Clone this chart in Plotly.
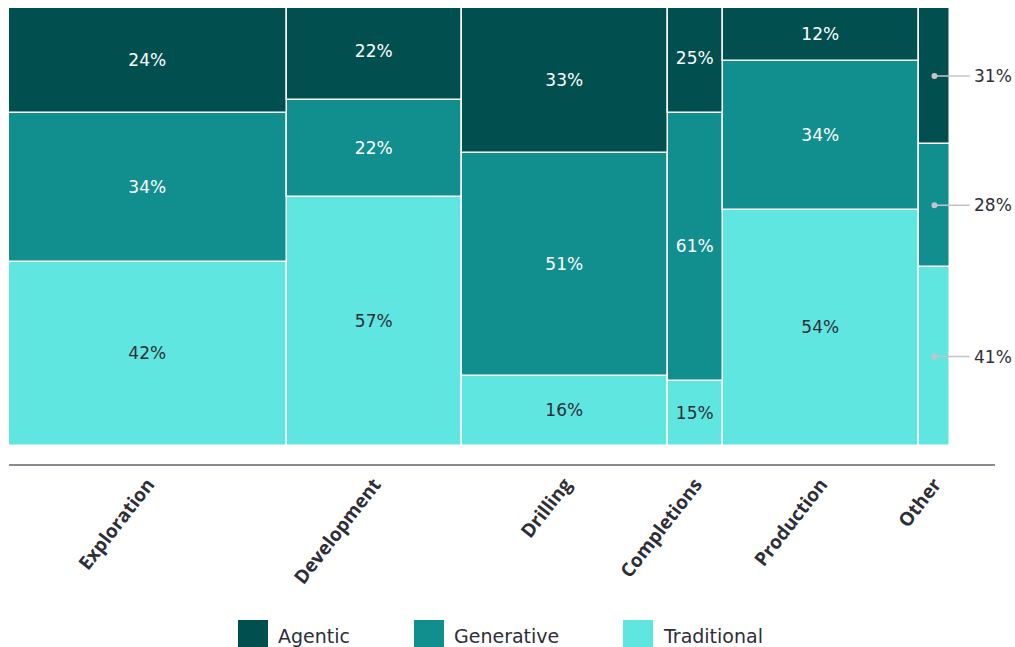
import plotly.graph_objects as go
import numpy as np

categories = ["Exploration", "Development", "Drilling", "Completions", "Production", "Other"]
col_widths = [29.5, 18.6, 21.9, 5.8, 20.8, 3.3]
traditional = [42, 57, 16, 15, 54, 41]
generative = [34, 22, 51, 61, 34, 28]
agentic = [24, 22, 33, 25, 12, 31]

series = [
    ("Traditional", traditional, "#5fe6e0", "#2e2e38"),
    ("Generative", generative, "#118f8f", "#ffffff"),
    ("Agentic", agentic, "#024f50", "#ffffff"),
]

w = np.array(col_widths)
left = np.concatenate([[0], np.cumsum(w)[:-1]])
centers = left + w / 2
total = w.sum()

fig = go.Figure()
base = np.zeros(len(categories))
for name, vals, color, tcolor in series:
    vals = np.array(vals, dtype=float)
    texts = [f"{v:.0f}%" if c != "Other" else "" for v, c in zip(vals, categories)]
    fig.add_trace(go.Bar(
        x=centers, y=vals, base=base, width=w, name=name,
        marker=dict(color=color, line=dict(color="white", width=1.5)),
        text=texts, textposition="inside", insidetextanchor="middle",
        textangle=0, constraintext="none",
        textfont=dict(family="DejaVu Sans", size=17, color=tcolor),
        showlegend=False, hoverinfo="skip",
    ))
    base = base + vals

# Labels for the narrow "Other" column
oi = categories.index("Other")
b = 0.0
x_dot = centers[oi]
x_end = left[oi] + w[oi] + total * 0.021
for name, vals, color, tcolor in series:
    v = vals[oi]
    mid = b + v / 2
    fig.add_shape(type="line", x0=x_dot, x1=x_end, y0=mid, y1=mid,
                  xref="x", yref="y", line=dict(color="#c4c4c8", width=1.5))
    fig.add_trace(go.Scatter(x=[x_dot], y=[mid], mode="markers",
                             marker=dict(color="#c4c4c8", size=6),
                             showlegend=False, hoverinfo="skip"))
    fig.add_annotation(x=x_end, y=mid, xref="x", yref="y", text=f"{v}%",
                       showarrow=False, xanchor="left", xshift=2,
                       font=dict(family="DejaVu Sans", size=17, color="#2e2e38"))
    b += v

# Custom legend
leg = [("Agentic", "#024f50", 238), ("Generative", "#118f8f", 414), ("Traditional", "#5fe6e0", 623)]
W, H = 1015, 647
pl, pr, pt, pb = 9, 20, 8, 183
pw, ph = W - pl - pr, H - pt - pb
def px(xp):
    return (xp - pl) / pw
def py(yp):
    return 1 - (yp - pt) / ph
for name, color, x0 in leg:
    fig.add_shape(type="rect", xref="paper", yref="paper",
                  x0=px(x0), x1=px(x0 + 30), y0=py(620), y1=py(649),
                  fillcolor=color, line=dict(width=0), layer="above")
    fig.add_annotation(xref="paper", yref="paper", x=px(x0 + 38), y=py(636),
                       text=name, showarrow=False, xanchor="left", yanchor="middle",
                       font=dict(family="DejaVu Sans", size=19, color="#2e2e38"))

fig.update_layout(
    width=W, height=H,
    margin=dict(l=pl, r=pr, t=pt, b=pb),
    barmode="overlay",
    plot_bgcolor="white", paper_bgcolor="white",
    bargap=0,
    xaxis=dict(range=[0, total * 986 / 941], tickmode="array", tickvals=centers,
               ticktext=[f"<b>{c}</b>" for c in categories], tickangle=-52,
               showline=True, linecolor="#8a8a90", linewidth=1.5,
               showgrid=False, zeroline=False, ticks="",
               tickfont=dict(family="Open Sans", size=19, color="#2e2e38")),
    yaxis=dict(range=[-4.0, 100], visible=False, showgrid=False, zeroline=False),
)

fig.write_html("out.html")
